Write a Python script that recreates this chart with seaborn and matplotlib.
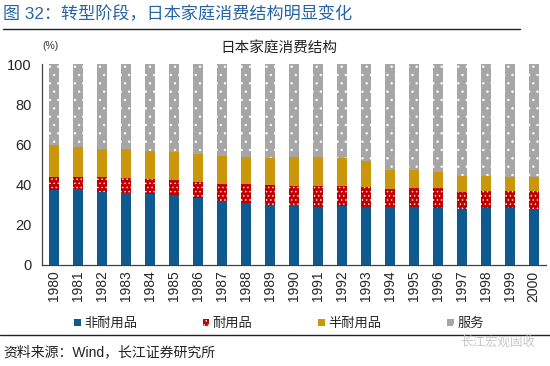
import matplotlib
matplotlib.use("Agg")
import matplotlib.pyplot as plt
import seaborn as sns
import numpy as np
import pandas as pd
from matplotlib.patches import Patch
from matplotlib.lines import Line2D

years = [str(y) for y in range(1980, 2001)]
nondurable = [37.3, 37.7, 36.5, 35.7, 35.3, 34.8, 33.2, 32.0, 31.0, 29.9, 29.9,
              29.0, 29.5, 29.0, 29.0, 29.0, 28.2, 27.7, 28.2, 28.2, 27.7]
durable = [6.7, 6.3, 7.3, 7.6, 7.5, 7.7, 7.9, 8.3, 9.3, 9.9, 9.6,
           10.5, 9.8, 9.6, 8.8, 9.1, 9.9, 8.8, 8.6, 8.6, 9.1]
semidurable = [15.5, 14.5, 13.9, 14.4, 13.9, 13.5, 14.1, 14.1, 13.6, 13.6, 14.1,
               14.1, 13.8, 13.3, 9.5, 9.2, 8.0, 7.8, 7.6, 7.1, 6.8]
services = [40.5, 41.5, 42.3, 42.3, 43.3, 44.0, 44.8, 45.6, 46.1, 46.6, 46.4,
            46.4, 46.9, 48.1, 52.7, 52.7, 53.9, 55.7, 55.6, 56.1, 56.4]
labels = ["非耐用品", "耐用品", "半耐用品", "服务"]

sns.set_theme(style="white")
plt.rcParams["font.family"] = ["Liberation Sans", "Noto Sans CJK SC", "DejaVu Sans"]
plt.rcParams["hatch.linewidth"] = 0.5

c_blue, c_red, c_gold, c_gray = "#0E5A8E", "#C00000", "#C9960C", "#A6A6A6"

df = pd.DataFrame({"year": years, "nd": nondurable, "d": durable,
                   "sd": semidurable, "s": services})
lvl1 = df["nd"]
lvl2 = lvl1 + df["d"]
lvl3 = lvl2 + df["sd"]
lvl4 = lvl3 + df["s"]

fig = plt.figure(figsize=(5.5, 3.66), dpi=100)
ax = fig.add_axes([0.0758, 0.276, 0.9162, 0.549])

common = dict(x=df["year"], width=0.42, saturation=1, linewidth=0, ax=ax)
sns.barplot(y=lvl4, color=c_gray, hatch="..", edgecolor="white", **common)
sns.barplot(y=lvl3, color=c_gold, edgecolor=c_gold, **common)
sns.barplot(y=lvl2, color=c_red, hatch="....", edgecolor="white", **common)
sns.barplot(y=lvl1, color=c_blue, edgecolor=c_blue, **common)

ax.set_xlim(-0.5, len(years) - 0.5)
ax.set_ylim(0, 100)
ax.set_yticks([0, 20, 40, 60, 80, 100])
ax.set_xlabel("")
ax.set_ylabel("")
ax.set_xticks(range(len(years)))
ax.set_xticklabels(years, rotation=90, fontsize=10)
ax.tick_params(axis="x", which="major", length=0, pad=4)
ax.set_xticks(np.arange(-0.5, len(years), 1), minor=True)
ax.tick_params(axis="x", which="minor", length=4, width=0.8, color="#404040", direction="out")
ax.tick_params(axis="y", length=4, width=0.8, color="#404040", direction="out", labelsize=10.5, pad=3)
for s in ["top", "right"]:
    ax.spines[s].set_visible(False)
for s in ["left", "bottom"]:
    ax.spines[s].set_color("#404040")
    ax.spines[s].set_linewidth(0.9)

fig.text(0.006, 0.963, "图 32：转型阶段，日本家庭消费结构明显变化", fontsize=12.3,
         color="#2464A4", va="center", ha="left")
fig.add_artist(Line2D([0.005, 0.945], [0.922, 0.922], color="#222222", lw=1.0))
fig.text(0.507, 0.868, "日本家庭消费结构", fontsize=10.5, ha="center", va="center", color="#222222")
fig.text(0.092, 0.874, "(%)", fontsize=7.5, ha="center", va="center", color="#333333")

handles = [Patch(facecolor=c_blue, edgecolor=c_blue, lw=0),
           Patch(facecolor=c_red, hatch="....", edgecolor="white", lw=0),
           Patch(facecolor=c_gold, edgecolor=c_gold, lw=0),
           Patch(facecolor=c_gray, hatch="..", edgecolor="white", lw=0)]
fig.legend(handles, labels, loc="center", bbox_to_anchor=(0.507, 0.115), ncol=4,
           frameon=False, fontsize=9.5, handlelength=0.5, handleheight=0.5,
           handletextpad=0.25, columnspacing=5.0)

fig.add_artist(Line2D([0.0, 1.0], [0.085, 0.085], color="#222222", lw=1.0))
fig.text(0.006, 0.038, "资料来源：Wind，长江证券研究所", fontsize=10, ha="left", va="center", color="#222222")
fig.text(0.905, 0.063, "长江宏观固收", fontsize=9, ha="center", va="center", color="#C8C8C8")

fig.savefig("out.png", dpi=100)
